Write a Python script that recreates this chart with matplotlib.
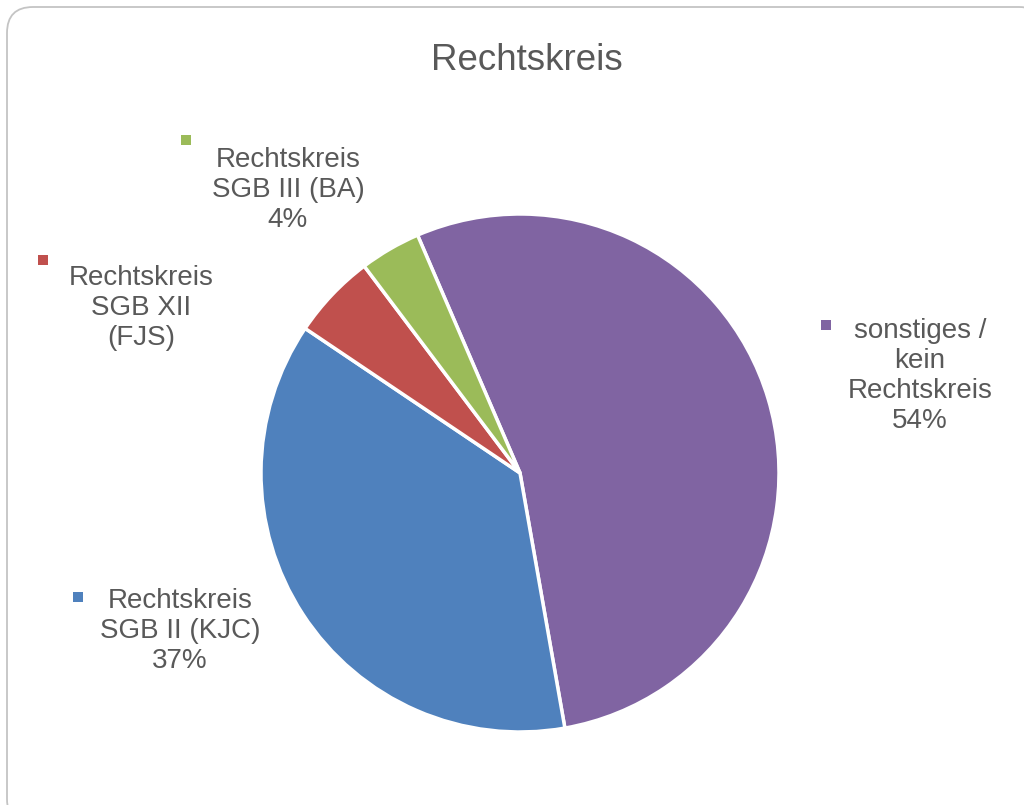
import matplotlib.pyplot as plt
from matplotlib.patches import FancyBboxPatch

# slices in clockwise order, starting at the upper boundary of "sonstiges"
categories = ["sonstiges / kein Rechtskreis", "Rechtskreis SGB II (KJC)",
              "Rechtskreis SGB XII (FJS)", "Rechtskreis SGB III (BA)"]
values = [53.7, 37.2, 5.3, 3.8]
colors = ["#8064A2", "#4F81BD", "#C0504D", "#9BBB59"]
label_texts = ["sonstiges /\nkein\nRechtskreis\n54%",
               "Rechtskreis\nSGB II (KJC)\n37%",
               "Rechtskreis\nSGB XII\n(FJS)",
               "Rechtskreis\nSGB III (BA)\n4%"]
title = "Rechtskreis"

W, H = 1024, 805
text_color = "#595959"
plt.rcParams['font.family'] = ['Liberation Sans', 'DejaVu Sans']

fig = plt.figure(figsize=(W / 100, H / 100), dpi=100)
ax = fig.add_axes([0, 0, 1, 1])
ax.set_xlim(0, W)
ax.set_ylim(0, H)
ax.set_aspect('equal')
ax.axis('off')


def py(y):
    # pixel row (from top) -> data y
    return H - y


# frame
frame = FancyBboxPatch((7, py(825)), 1045 - 7, 825 - 7,
                       boxstyle="round,pad=0,rounding_size=26",
                       facecolor="white", edgecolor="#C4C4C4", lw=1.3,
                       clip_on=False, zorder=0)
ax.add_patch(frame)

ax.pie(values, colors=colors, startangle=113.3, counterclock=False,
       center=(520, py(473)), radius=259, frame=True,
       wedgeprops=dict(edgecolor="white", linewidth=2.5))
ax.set_xlim(0, W)
ax.set_ylim(0, H)
ax.axis('off')

# label block centres and marker positions (pixels)
label_xy = [(920, 376), (180, 631), (141, 308), (288, 190)]
marker_xy = [(826, 325), (78, 597), (43, 260), (186, 140)]

for txt, (lx, ly), (mx, my), c in zip(label_texts, label_xy, marker_xy, colors):
    ax.text(lx, py(ly), txt, ha='center', va='center', fontsize=20,
            color=text_color, linespacing=1.2, zorder=5)
    ax.scatter([mx], [py(my)], marker='s', s=55, color=c, zorder=5, linewidths=0)

ax.text(527, py(60), title, ha='center', va='center', fontsize=26.5,
        color=text_color)

fig.savefig("out.png", dpi=100)
